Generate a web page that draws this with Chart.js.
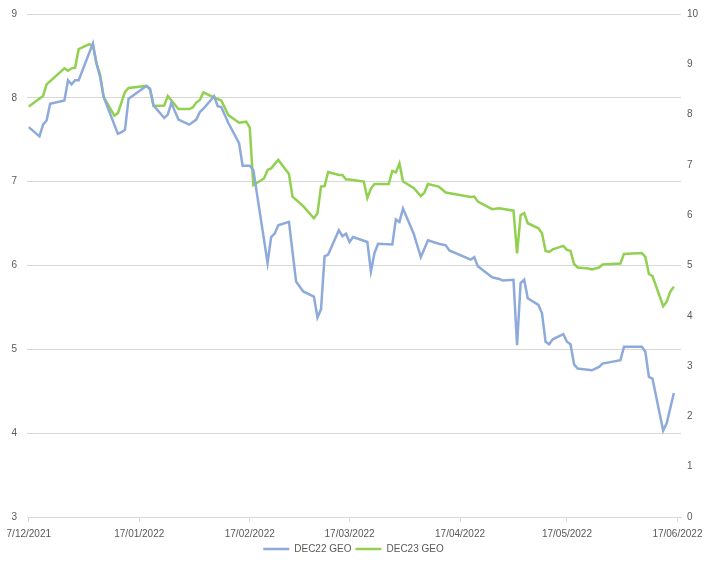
<!DOCTYPE html>
<html>
<head>
<meta charset="utf-8">
<script src="https://cdn.jsdelivr.net/npm/chart.js@4.4.0/dist/chart.umd.min.js"></script>
<style>
  html, body { margin: 0; padding: 0; background: #fff; }
  #wrap { width: 707px; height: 562px; }
</style>
</head>
<body>
<div id="wrap"><canvas id="geo"></canvas></div>
<script>
// DEC22 GEO (left axis)
const dec22Dates = [
  '2021-12-17', '2021-12-20', '2021-12-21', '2021-12-22', '2021-12-23', '2021-12-27', '2021-12-28',
  '2021-12-29', '2021-12-30', '2021-12-31', '2022-01-04', '2022-01-05', '2022-01-06', '2022-01-07',
  '2022-01-11', '2022-01-12', '2022-01-13', '2022-01-14', '2022-01-19', '2022-01-20', '2022-01-21',
  '2022-01-24', '2022-01-25', '2022-01-26', '2022-01-28', '2022-01-31', '2022-02-02', '2022-02-03',
  '2022-02-04', '2022-02-07', '2022-02-08', '2022-02-09', '2022-02-11', '2022-02-14', '2022-02-15',
  '2022-02-17', '2022-02-18', '2022-02-22', '2022-02-23', '2022-02-24', '2022-02-25', '2022-02-28',
  '2022-03-02', '2022-03-04', '2022-03-07', '2022-03-08', '2022-03-09', '2022-03-10', '2022-03-11',
  '2022-03-14', '2022-03-15', '2022-03-16', '2022-03-17', '2022-03-18', '2022-03-22', '2022-03-23',
  '2022-03-24', '2022-03-25', '2022-03-29', '2022-03-30', '2022-03-31', '2022-04-01', '2022-04-04',
  '2022-04-06', '2022-04-08', '2022-04-11', '2022-04-13', '2022-04-14', '2022-04-20', '2022-04-21',
  '2022-04-22', '2022-04-26', '2022-04-28', '2022-04-29', '2022-05-02', '2022-05-03', '2022-05-04',
  '2022-05-05', '2022-05-06', '2022-05-09', '2022-05-10', '2022-05-11', '2022-05-12', '2022-05-13',
  '2022-05-16', '2022-05-17', '2022-05-18', '2022-05-19', '2022-05-20', '2022-05-24', '2022-05-26',
  '2022-05-27', '2022-06-01', '2022-06-02', '2022-06-07', '2022-06-08', '2022-06-09', '2022-06-10',
  '2022-06-13', '2022-06-14', '2022-06-16'
];
const dec22Values = [
  7.65, 7.54, 7.68, 7.73, 7.93, 7.97, 8.21,
  8.16, 8.21, 8.21, 8.65, 8.41, 8.25, 8.01,
  7.57, 7.59, 7.62, 7.99, 8.14, 8.11, 7.91,
  7.76, 7.80, 7.94, 7.74, 7.68, 7.74, 7.83,
  7.87, 8.02, 7.90, 7.89, 7.70, 7.46, 7.19,
  7.19, 7.14, 6.03, 6.34, 6.38, 6.48, 6.52,
  5.81, 5.69, 5.63, 5.38, 5.48, 6.11, 6.13,
  6.42, 6.35, 6.38, 6.28, 6.34, 6.28, 5.93,
  6.15, 6.26, 6.25, 6.55, 6.52, 6.68, 6.38,
  6.10, 6.30, 6.26, 6.24, 6.18, 6.07, 6.10,
  5.99, 5.86, 5.84, 5.82, 5.83, 5.05, 5.79,
  5.83, 5.61, 5.53, 5.43, 5.09, 5.06, 5.12,
  5.18, 5.09, 5.06, 4.82, 4.77, 4.75, 4.79,
  4.83, 4.87, 5.03, 5.03, 4.97, 4.67, 4.65,
  4.03, 4.12, 4.48
];

// DEC23 GEO (right axis)
const dec23Dates = [
  '2021-12-17', '2021-12-21', '2021-12-22', '2021-12-27', '2021-12-28', '2021-12-29', '2021-12-30',
  '2021-12-31', '2022-01-03', '2022-01-04', '2022-01-05', '2022-01-06', '2022-01-07', '2022-01-10',
  '2022-01-11', '2022-01-13', '2022-01-14', '2022-01-19', '2022-01-20', '2022-01-21', '2022-01-24',
  '2022-01-25', '2022-01-28', '2022-01-31', '2022-02-01', '2022-02-02', '2022-02-03', '2022-02-04',
  '2022-02-07', '2022-02-09', '2022-02-11', '2022-02-14', '2022-02-16', '2022-02-17', '2022-02-18',
  '2022-02-21', '2022-02-22', '2022-02-23', '2022-02-25', '2022-02-28', '2022-03-01', '2022-03-04',
  '2022-03-07', '2022-03-08', '2022-03-09', '2022-03-10', '2022-03-11', '2022-03-14', '2022-03-15',
  '2022-03-16', '2022-03-17', '2022-03-21', '2022-03-22', '2022-03-23', '2022-03-24', '2022-03-28',
  '2022-03-29', '2022-03-30', '2022-03-31', '2022-04-01', '2022-04-04', '2022-04-06', '2022-04-07',
  '2022-04-08', '2022-04-11', '2022-04-13', '2022-04-20', '2022-04-21', '2022-04-22', '2022-04-26',
  '2022-04-28', '2022-05-02', '2022-05-03', '2022-05-04', '2022-05-05', '2022-05-06', '2022-05-09',
  '2022-05-10', '2022-05-11', '2022-05-12', '2022-05-13', '2022-05-16', '2022-05-17', '2022-05-18',
  '2022-05-19', '2022-05-20', '2022-05-23', '2022-05-24', '2022-05-26', '2022-05-27', '2022-06-01',
  '2022-06-02', '2022-06-07', '2022-06-08', '2022-06-09', '2022-06-10', '2022-06-13', '2022-06-14',
  '2022-06-15', '2022-06-16'
];
const dec23Values = [
  8.16, 8.37, 8.60, 8.92, 8.87, 8.92, 8.93,
  9.30, 9.40, 9.36, 9.02, 8.80, 8.35, 7.98,
  8.03, 8.45, 8.53, 8.57, 8.50, 8.17, 8.18,
  8.37, 8.11, 8.11, 8.14, 8.24, 8.29, 8.44,
  8.34, 8.28, 7.99, 7.84, 7.86, 7.74, 6.60,
  6.73, 6.90, 6.93, 7.10, 6.82, 6.37, 6.18,
  5.94, 6.04, 6.57, 6.58, 6.86, 6.80, 6.80,
  6.71, 6.71, 6.67, 6.34, 6.53, 6.62, 6.62,
  6.88, 6.85, 7.03, 6.67, 6.54, 6.38, 6.45,
  6.62, 6.57, 6.45, 6.36, 6.37, 6.27, 6.12,
  6.14, 6.09, 5.24, 6.00, 6.04, 5.84, 5.74,
  5.64, 5.29, 5.27, 5.32, 5.39, 5.31, 5.29,
  5.03, 4.96, 4.94, 4.92, 4.96, 5.02, 5.04,
  5.23, 5.25, 5.17, 4.83, 4.79, 4.19, 4.28,
  4.48, 4.58
];

// monthly ticks on the date axis
const tickDates = ['2021-12-17', '2022-01-17', '2022-02-17', '2022-03-17', '2022-04-17', '2022-05-17', '2022-06-17'];
const tickLabels = ['7/12/2021', '17/01/2022', '17/02/2022', '17/03/2022', '17/04/2022', '17/05/2022', '17/06/2022'];

const DAY = 86400000;
const startDate = Date.UTC(2021, 11, 17);
const toDay = s => {
  const [y, m, d] = s.split('-').map(Number);
  return (Date.UTC(y, m - 1, d) - startDate) / DAY;
};
const toPoints = (dates, values) => dates.map((d, i) => ({x: toDay(d), y: values[i]}));

const textColor = '#595959';
const gridColor = '#d9d9d9';
const font = {family: "'Liberation Sans', Arial, sans-serif", size: 10};

// value axes: fixed width, no extra room above/below for the end labels
const fixAxis = width => s => {
  s.width = width;
  s.paddingTop = 0;
  s.paddingBottom = 0;
};

let ctx = document.getElementById('geo');
let chart = new Chart(ctx, {
  type: 'line',
  data: {
    datasets: [{
      label: 'DEC22 GEO',
      data: toPoints(dec22Dates, dec22Values),
      borderColor: '#8eaadb',
      backgroundColor: '#8eaadb',
      borderWidth: 2.5,
      pointRadius: 0,
      tension: 0,
      yAxisID: 'y'
    }, {
      label: 'DEC23 GEO',
      data: toPoints(dec23Dates, dec23Values),
      borderColor: '#92d050',
      backgroundColor: '#92d050',
      borderWidth: 2.5,
      pointRadius: 0,
      tension: 0,
      yAxisID: 'y1'
    }]
  },
  options: {
    responsive: true,
    maintainAspectRatio: false,
    animation: false,
    layout: {padding: {top: 14, left: 0, right: 0, bottom: -2}},
    plugins: {
      legend: {
        position: 'bottom',
        labels: {
          usePointStyle: true,
          pointStyle: 'line',
          pointStyleWidth: 26,
          color: textColor,
          font: font,
          padding: 4
        }
      },
      tooltip: {enabled: false}
    },
    scales: {
      x: {
        type: 'linear',
        min: -0.5,
        max: 183,
        afterBuildTicks: s => { s.ticks = tickDates.map(d => ({value: toDay(d)})); },
        afterFit: s => { s.paddingLeft = 0; s.paddingRight = 0; s.height = 23; },
        ticks: {
          autoSkip: false,
          maxRotation: 0,
          padding: 6,
          color: textColor,
          font: font,
          callback: (v, i) => tickLabels[i]
        },
        grid: {drawOnChartArea: false, drawTicks: true, tickLength: 5, color: gridColor},
        border: {color: gridColor}
      },
      y: {
        position: 'left',
        min: 3,
        max: 9,
        afterFit: fixAxis(27),
        ticks: {stepSize: 1, padding: 10, color: textColor, font: font},
        grid: {color: gridColor, drawTicks: false},
        border: {display: false}
      },
      y1: {
        position: 'right',
        min: 0,
        max: 10,
        afterFit: fixAxis(26),
        ticks: {stepSize: 1, padding: 6, color: textColor, font: font},
        grid: {display: false, drawTicks: false},
        border: {display: false}
      }
    }
  }
});
</script>
</body>
</html>
